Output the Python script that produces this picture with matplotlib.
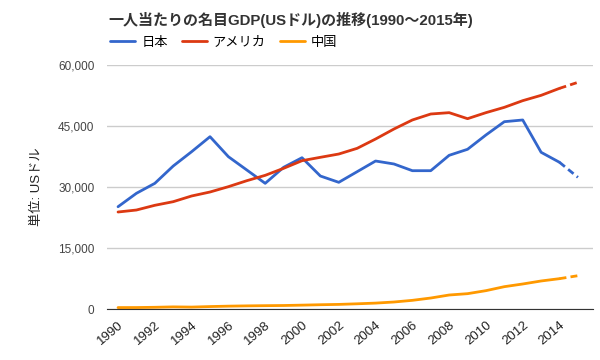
import matplotlib
matplotlib.use("Agg")
import matplotlib.pyplot as plt
from matplotlib.ticker import FuncFormatter

plt.rcParams['font.family'] = ['Liberation Sans', 'Noto Sans CJK JP', 'DejaVu Sans']

# データ (1990〜2015年、一人当たり名目GDP, USドル)
years = list(range(1990, 2016))
japan = [25150, 28450, 30900, 35160, 38680, 42370, 37450, 34180, 30900, 34840,
         37200, 32700, 31150, 33770, 36390, 35660, 34010, 34010, 37790, 39270,
         42790, 46060, 46480, 38530, 36070, 32380]
usa = [23850, 24340, 25500, 26390, 27790, 28770, 30080, 31550, 32870, 34590,
       36470, 37300, 38110, 39510, 41800, 44260, 46480, 47950, 48280, 46800,
       48280, 49590, 51230, 52540, 54260, 55740]
china = [350, 360, 420, 520, 470, 600, 700, 770, 820, 860,
         950, 1050, 1130, 1280, 1450, 1720, 2130, 2700, 3440, 3770,
         4510, 5490, 6150, 6890, 7460, 8190]
names = ['日本', 'アメリカ', '中国']
colors = ['#3366cc', '#dc3912', '#ff9900']
xtick_years = list(range(1990, 2015, 2))
yticks = [0, 15000, 30000, 45000, 60000]

fig = plt.figure(figsize=(6, 3.6), dpi=100)
ax = fig.add_axes([107 / 600, 1 - 309 / 360, 486 / 600, 244 / 360])

for vals, name, c in zip([japan, usa, china], names, colors):
    # 2014年まで実線、2015年は推計値として破線
    ax.plot(years[:-1], vals[:-1], color=c, lw=2, label=name, solid_capstyle='round')
    ax.plot(years[-2:], vals[-2:], color=c, lw=2, ls=(0, (2.5, 1.5)))

ax.set_xlim(1989.4, 2015.82)
ax.set_ylim(0, 60000)
ax.set_yticks(yticks)
ax.yaxis.set_major_formatter(FuncFormatter(lambda v, p: f'{int(v):,}'))
ax.set_xticks(xtick_years)
ax.set_xticklabels([str(y) for y in xtick_years], rotation=40, ha='right',
                   rotation_mode='anchor', fontsize=9.5, color='#222222')
ax.tick_params(axis='y', length=0, labelsize=8.5, labelcolor='#444444', pad=9)
ax.tick_params(axis='x', length=0, pad=7)
ax.grid(axis='y', color='#cccccc', lw=1)
ax.set_axisbelow(True)
for s in ['top', 'right', 'left']:
    ax.spines[s].set_visible(False)
ax.spines['bottom'].set_color('#333333')
ax.spines['bottom'].set_zorder(5)

ax.set_ylabel('単位: USドル', fontsize=9.5, color='#222222', labelpad=11)

fig.text(108 / 600, 1 - 20 / 360, '一人当たりの名目GDP(USドル)の推移(1990～2015年)',
         fontsize=10.8, fontweight='bold', color='#333333', va='center', ha='left')

fig.legend(loc='upper left', bbox_to_anchor=(105 / 600, 1 - 31 / 360), ncol=3,
           frameon=False, fontsize=9.5, handlelength=1.9, handletextpad=0.45,
           columnspacing=1.05, borderaxespad=0)

fig.savefig('out.png', dpi=100)
